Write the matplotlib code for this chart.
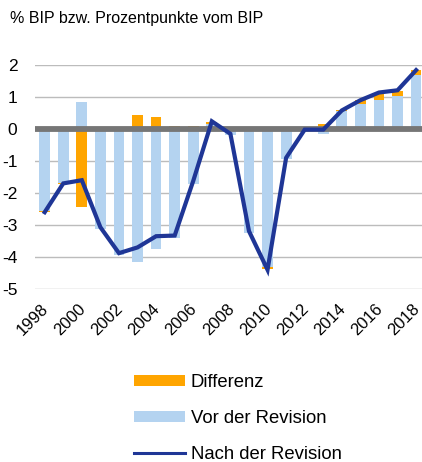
import numpy as np
import matplotlib
matplotlib.use("Agg")
import matplotlib.pyplot as plt
import matplotlib.transforms as mtransforms
from matplotlib.patches import Patch
from matplotlib.lines import Line2D

plt.rcParams["font.family"] = ["Liberation Sans", "DejaVu Sans"]

years = list(range(1998, 2019))
vor = [-2.55, -1.70, 0.85, -3.12, -3.93, -4.15, -3.74, -3.41, -1.72, 0.15, -0.18,
       -3.24, -4.30, -0.93, 0.00, -0.15, 0.56, 0.77, 0.91, 1.03, 1.70]
diff = [-0.05, -0.02, -2.45, 0.05, 0.05, 0.45, 0.39, 0.08, 0.10, 0.08, 0.03,
        0.05, -0.08, 0.03, 0.00, 0.15, 0.03, 0.14, 0.22, 0.17, 0.13]
nach = [-2.60, -1.70, -1.60, -3.07, -3.88, -3.70, -3.35, -3.33, -1.62, 0.24, -0.15,
        -3.19, -4.40, -0.90, -0.02, -0.02, 0.58, 0.90, 1.14, 1.21, 1.84]
ylabels = ["2", "1", "0", "-1", "-2", "-3", "-4", "-5"]

c_orange = "#ffa500"
c_light = "#b4d3f0"
c_line = "#1f3696"

fig = plt.figure(figsize=(4.22, 4.62), dpi=100)
W, H = 422, 462
ax = fig.add_axes([35.4 / W, 1 - 289 / H, 390 / W, 224 / H])

x = np.arange(len(years))
vor_a = np.array(vor)
diff_a = np.array(diff)
bottom = np.where(diff_a >= 0, np.maximum(vor_a, 0), np.minimum(vor_a, 0))

ax.bar(x, vor_a, width=0.58, color=c_light, zorder=2)
ax.bar(x, diff_a, bottom=bottom, width=0.58, color=c_orange, zorder=2)
ax.axhline(0, color="#767676", lw=4.2, zorder=3)
ax.plot(x, nach, color=c_line, lw=3.0, zorder=4, solid_joinstyle="miter")

ax.set_xlim(-0.5, len(years) - 0.5)
ax.set_ylim(-5, 2)
ax.set_yticks([2, 1, 0, -1, -2, -3, -4, -5])
ax.set_yticklabels(ylabels)
ax.yaxis.grid(True, color="#bcbcbc", lw=1.0, zorder=0)
ax.set_axisbelow(True)
for s in ax.spines.values():
    s.set_visible(False)
ax.tick_params(axis="y", length=0, labelsize=12.5, pad=13)
ax.tick_params(axis="x", length=0, labelsize=12, pad=6)

ax.set_xticks(x[::2])
ax.set_xticklabels([str(y) for y in years[::2]], rotation=45, ha="right",
                   rotation_mode="anchor")
shift = mtransforms.ScaledTranslation(-4 / 100, -4 / 100, fig.dpi_scale_trans)
for lab in ax.get_xticklabels():
    lab.set_transform(lab.get_transform() + shift)

fig.text(10 / W, 1 - 18 / H, "% BIP bzw. Prozentpunkte vom BIP", fontsize=11.5,
         va="center", ha="left")

handles = [Patch(facecolor=c_orange, edgecolor="none"),
           Patch(facecolor=c_light, edgecolor="none"),
           Line2D([0], [0], color=c_line, lw=2.2)]
fig.legend(handles, ["Differenz", "Vor der Revision", "Nach der Revision"],
           loc="upper left", bbox_to_anchor=(117 / W, 1 - 357 / H), frameon=False,
           fontsize=13.3, handlelength=2.76, handleheight=0.55, handletextpad=0.33,
           labelspacing=1.04)

fig.savefig("out.png", dpi=100)
